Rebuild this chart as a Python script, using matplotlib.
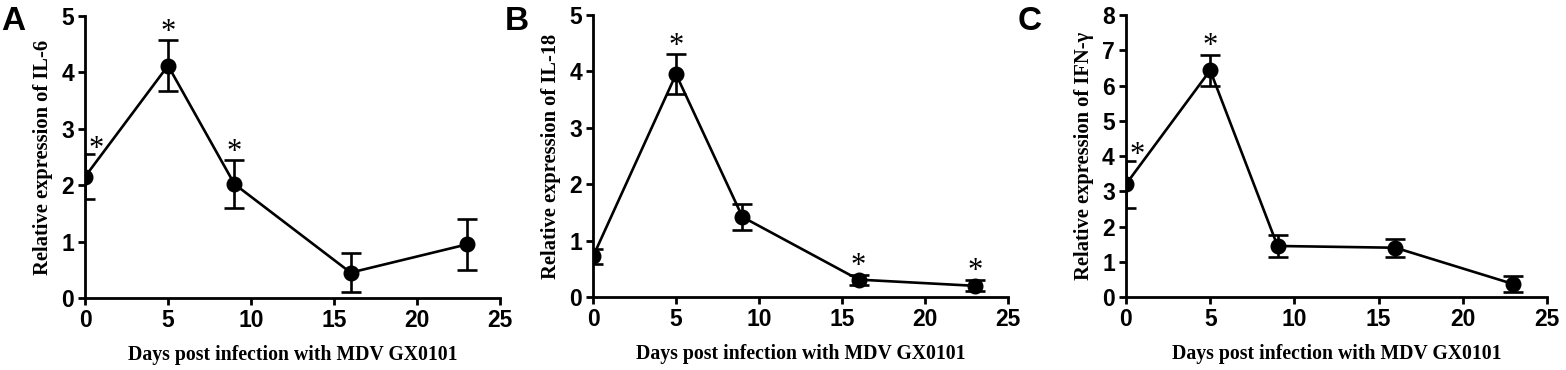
import matplotlib
matplotlib.use("Agg")
import matplotlib.pyplot as plt
from matplotlib.font_manager import FontProperties

# days post infection
days = [0, 5, 9, 16, 23]

# IL-6
il6_mean = [2.15, 4.12, 2.02, 0.45, 0.95]
il6_err = [0.40, 0.45, 0.42, 0.35, 0.45]
il6_star = [0, 1, 2]

# IL-18
il18_mean = [0.72, 3.95, 1.42, 0.31, 0.20]
il18_err = [0.14, 0.35, 0.23, 0.09, 0.10]
il18_star = [1, 3, 4]

# IFN-gamma
ifng_mean = [3.20, 6.43, 1.45, 1.40, 0.37]
ifng_err = [0.67, 0.43, 0.30, 0.25, 0.23]
ifng_star = [0, 1]

panels = [
    ("A", "Relative expression of IL-6", il6_mean, il6_err, il6_star, 5,
     [0.0543, 0.1946, 0.2650, 0.7622], 0.001),
    ("B", "Relative expression of IL-18", il18_mean, il18_err, il18_star, 5,
     [0.3787, 0.1970, 0.2650, 0.7625], 0.322),
    ("C", "Relative expression of IFN-\u03b3", ifng_mean, ifng_err, ifng_star, 8,
     [0.7190, 0.1970, 0.2689, 0.7625], 0.650),
]

tick_fp = FontProperties(family="Liberation Sans", weight="bold", size=16.5)
xlabel_font = {"family": "Liberation Serif", "weight": "bold", "size": 14.2}
ylabel_font = {"family": "Liberation Serif", "weight": "bold", "size": 14.8}

fig = plt.figure(figsize=(15.66, 3.70), dpi=100)

for letter, ylabel, mean, err, stars, ymax, rect, lx in panels:
    ax = fig.add_axes(rect)
    ax.errorbar(days, mean, yerr=err, color="black", lw=1.9, marker="o",
                markersize=10.5, capsize=7.5, capthick=1.9, elinewidth=1.9)
    ax.set_xlim(0, 25)
    ax.set_ylim(0, ymax)
    ax.set_xticks([0, 5, 10, 15, 20, 25])
    ax.set_yticks(range(0, ymax + 1))
    for s in ["top", "right"]:
        ax.spines[s].set_visible(False)
    for s in ["left", "bottom"]:
        ax.spines[s].set_linewidth(2.0)
    ax.tick_params(width=2.0, length=5, pad=3)
    for t in ax.get_xticklabels() + ax.get_yticklabels():
        t.set_fontproperties(tick_fp)
    ax.set_xlabel("Days post infection with MDV GX0101", fontdict=xlabel_font, labelpad=9)
    ax.set_ylabel(ylabel, fontdict=ylabel_font, labelpad=6)
    for i in stars:
        dx = 8 if days[i] == 0 else 0
        dy = -2 if days[i] == 0 else 0.5
        ax.annotate("*", (days[i], mean[i] + err[i]), xytext=(dx, dy),
                    textcoords="offset points", ha="center", va="baseline",
                    fontsize=22, family="Liberation Serif", clip_on=False)
    fig.text(lx, 0.985, letter, ha="left", va="top",
             fontsize=24, fontweight="bold", family="Liberation Sans")

fig.savefig("out.png", dpi=100)
